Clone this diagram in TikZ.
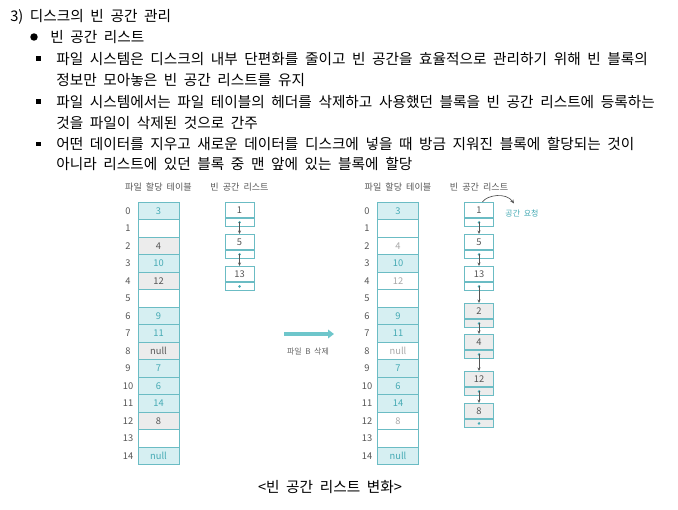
\documentclass[tikz,border=0pt]{standalone}
\usepackage{fontspec}
\setmainfont{Noto Sans CJK KR}[WordSpace=2.0]
\usetikzlibrary{arrows.meta}
\definecolor{tealb}{HTML}{6BBCC4}
\definecolor{tealf}{HTML}{D6EFF2}
\definecolor{tealt}{HTML}{45AAB4}
\definecolor{greyf}{HTML}{ECECEC}
\definecolor{greyt}{HTML}{555555}
\definecolor{lgreyt}{HTML}{A8A8A8}
\definecolor{lbl}{HTML}{666666}
\definecolor{arrowc}{HTML}{6EC6CB}
\begin{document}
\begin{tikzpicture}[x=0.75pt,y=-0.75pt,
  txt/.style={anchor=west,inner sep=0pt,font=\fontsize{11}{12}\selectfont,text=black},
  cell/.style={draw=tealb,line width=0.6pt,minimum width=30.75pt,minimum height=13.125pt,inner sep=0pt,font=\fontsize{7}{8}\selectfont},
  cT/.style={fill=tealf,text=tealt},
  cG/.style={fill=greyf,text=greyt},
  cW/.style={fill=white,text=greyt},
  cR/.style={fill=white,text=lgreyt},
  idx/.style={inner sep=0pt,font=\fontsize{7}{8}\selectfont,text=greyt},
  ttl/.style={inner sep=0pt,font=\fontsize{6.8}{8}\selectfont,text=greyt},
  lbox/.style={draw=tealb,line width=0.6pt,minimum width=21.75pt,minimum height=11.25pt,inner sep=0pt,anchor=north,font=\fontsize{7}{8}\selectfont,text=greyt},
  pbox/.style={draw=tealb,line width=0.6pt,minimum width=21.75pt,minimum height=6.4pt,inner sep=0pt,anchor=north},
  bW/.style={fill=white},
  bG/.style={fill=greyf},
  ptr/.style={draw=greyt,line width=0.5pt,-{Stealth[length=2.6pt,width=2.2pt]}},
  curv/.style={draw=greyt,line width=0.5pt,-{Stealth[length=3pt,width=2.6pt]}},
  bigarrow/.style={draw=arrowc,line width=2.4pt,-{Triangle[length=4.5pt,width=6.5pt]}},
  note/.style={inner sep=0pt,font=\fontsize{6}{7}\selectfont}
]
\useasboundingbox (0,0) rectangle (678,510);

% ---------- text block ----------
\node[txt] (t1) at (10,17) {3) 디스크의 빈 공간 관리};
\fill (34,37) circle[radius=2.8pt];
\node[txt] (t2) at (50,37) {빈 공간 리스트};
\fill (36,56.5) rectangle (40.5,61);
\node[txt] (t3) at (56,59) {파일 시스템은 디스크의 내부 단편화를 줄이고 빈 공간을 효율적으로 관리하기 위해 빈 블록의};
\node[txt] (t4) at (56,80) {정보만 모아놓은 빈 공간 리스트를 유지};
\fill (36,99.5) rectangle (40.5,104);
\node[txt] (t5) at (56,102) {파일 시스템에서는 파일 테이블의 헤더를 삭제하고 사용했던 블록을 빈 공간 리스트에 등록하는};
\node[txt] (t6) at (56,123) {것을 파일이 삭제된 것으로 간주};
\fill (36,141.5) rectangle (40.5,146);
\node[txt] (t7) at (56,144) {어떤 데이터를 지우고 새로운 데이터를 디스크에 넣을 때 방금 지워진 블록에 할당되는 것이};
\node[txt] (t8) at (56,164) {아니라 리스트에 있던 블록 중 맨 앞에 있는 블록에 할당};

% ---------- titles ----------
\node[ttl] (lt1) at (158.5,187) {파일 할당 테이블};
\node[ttl] (lt2) at (239.5,187) {빈 공간 리스트};
\node[ttl] (rt1) at (398,187) {파일 할당 테이블};
\node[ttl] (rt2) at (479,187) {빈 공간 리스트};

% ---------- left table ----------
\foreach \i/\v/\s in {0/3/cT,1//cW,2/4/cG,3/10/cT,4/12/cG,5//cW,6/9/cT,7/11/cT,8/null/cG,9/7/cT,10/6/cT,11/14/cT,12/8/cG,13//cW,14/null/cT}{
  \node[cell,\s] (L\i) at (158.5,{210.75+17.5*\i}) {\v};
  \node[idx] (Li\i) at (128,{210.75+17.5*\i}) {\i};
}
% ---------- right table ----------
\foreach \i/\v/\s in {0/3/cT,1//cW,2/4/cR,3/10/cT,4/12/cR,5//cW,6/9/cT,7/11/cT,8/null/cR,9/7/cT,10/6/cT,11/14/cT,12/8/cR,13//cW,14/null/cT}{
  \node[cell,\s] (R\i) at (398,{210.75+17.5*\i}) {\v};
  \node[idx] (Ri\i) at (367,{210.75+17.5*\i}) {\i};
}

% ---------- left free list ----------
\foreach \v/\t/\s in {1/202/bW,5/234/bW,13/266/bW}{
  \node[lbox,\s] (A\v) at (239.5,\t) {\v};
  \node[pbox,\s] (A\v p) at (A\v.south) {};
  \fill[tealt] (A\v p.center) circle[radius=1.1pt];
}
\draw[ptr] (A1p.center) -- (A5.north);
\draw[ptr] (A5p.center) -- (A13.north);

% ---------- right free list ----------
\foreach \v/\t/\s in {1/202/bW,5/234/bW,13/266/bW,2/303/bG,4/334/bG,12/371/bG,8/403/bG}{
  \node[lbox,\s] (B\v) at (479,\t) {\v};
  \node[pbox,\s] (B\v p) at (B\v.south) {};
  \fill[tealt] (B\v p.center) circle[radius=1.1pt];
}
\draw[ptr] (B1p.center) -- (B5.north);
\draw[ptr] (B5p.center) -- (B13.north);
\draw[ptr] (B13p.center) -- (B2.north);
\draw[ptr] (B2p.center) -- (B4.north);
\draw[ptr] (B4p.center) -- (B12.north);
\draw[ptr] (B12p.center) -- (B8.north);

% space request
\node[note,text=tealt] (req) at (522,213) {공간 요청};
\coordinate (reqend) at (514,203.5);
\draw[curv] ([xshift=2.5pt]B1.north) .. controls (487,195) and (506,192) .. (reqend);

% ---------- middle arrow ----------
\coordinate (m1) at (284,334);
\coordinate (m2) at (334,334);
\draw[bigarrow] (m1) -- (m2);
\node[note,text=lbl] (mlbl) at (308,352) {파일 B 삭제};

% ---------- caption ----------
\node[inner sep=0pt,font=\fontsize{11}{12}\selectfont] (cap) at (330,487) {<빈 공간 리스트 변화>};
\end{tikzpicture}
\end{document}
